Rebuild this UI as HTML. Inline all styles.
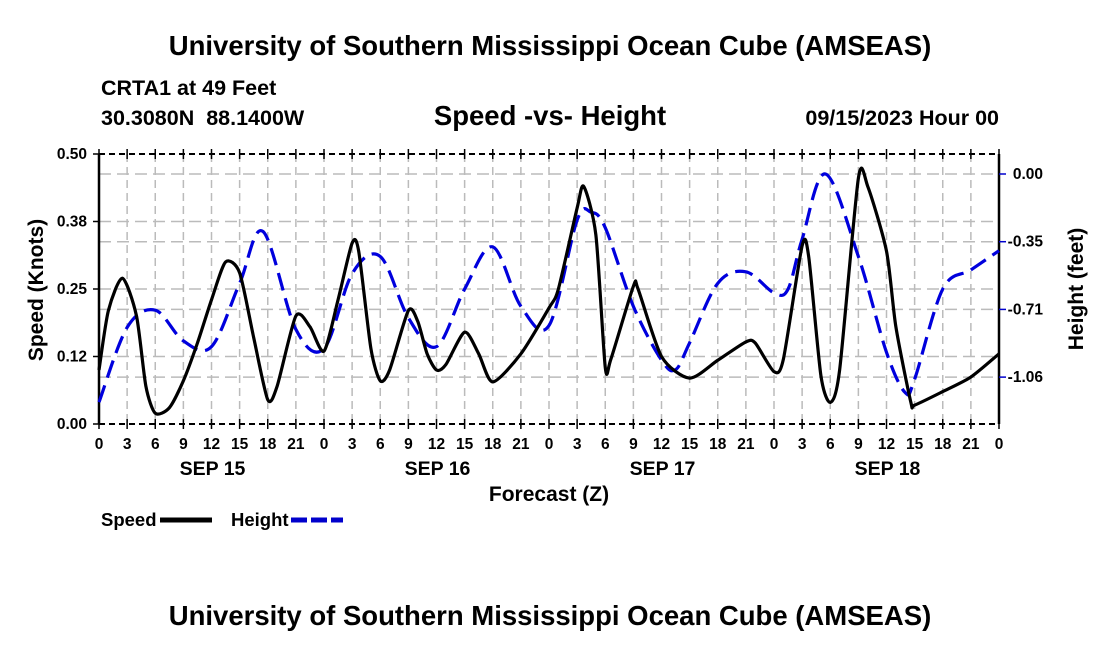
<!DOCTYPE html>
<html><head><meta charset="utf-8"><style>
body{margin:0;background:#fff;}
svg{display:block;font-family:"Liberation Sans",sans-serif;font-weight:bold;}
</style></head><body>
<svg id="chart" width="1100" height="650" viewBox="0 0 1100 650">
<text x="550" y="55" font-size="27.5" text-anchor="middle">University of Southern Mississippi Ocean Cube (AMSEAS)</text>
<text x="101" y="95" font-size="21.5">CRTA1 at 49 Feet</text>
<text x="101" y="125" font-size="21.5" xml:space="preserve">30.3080N  88.1400W</text>
<text x="550" y="125" font-size="27.5" text-anchor="middle">Speed -vs- Height</text>
<text x="999" y="125" font-size="21.5" text-anchor="end">09/15/2023 Hour 00</text>
<g id="grid"></g>
<g id="axes"></g>
<g id="series"></g>
<text x="549" y="501" font-size="21" text-anchor="middle">Forecast (Z)</text>
<text transform="translate(43,290) rotate(-90)" font-size="21" text-anchor="middle">Speed (Knots)</text>
<text transform="translate(1083,289) rotate(-90)" font-size="21" text-anchor="middle">Height (feet)</text>
<g>
<text x="101" y="526" font-size="18.5">Speed</text>
<line x1="160" y1="520" x2="212" y2="520" stroke="#000" stroke-width="5"/>
<text x="231" y="526" font-size="18.5">Height</text>
<line x1="291" y1="520" x2="343" y2="520" stroke="#0000cc" stroke-width="5" stroke-dasharray="16,4"/>
</g>
<text x="550" y="625" font-size="27.5" text-anchor="middle">University of Southern Mississippi Ocean Cube (AMSEAS)</text>
</svg>
<script>
const speedHours=[0,1,2.5,4,5,6,7.5,9,10.5,12,13.5,15,16.5,18,19,21,22.5,24,25.5,27,27.7,29,30,31,33,34,35,36,37,39,40.5,42,45,48,49,51,51.7,53,54,54.6,57,57.5,60,63,66,69,70,72,73,75,75.7,77,78,79,81,82,84,85,86.6,87,90,93,96];
const speedVals=[0.10,0.21,0.27,0.2,0.07,0.02,0.03,0.08,0.15,0.23,0.30,0.28,0.16,0.045,0.07,0.20,0.18,0.135,0.23,0.335,0.32,0.14,0.08,0.1,0.21,0.19,0.13,0.10,0.11,0.17,0.13,0.078,0.13,0.215,0.25,0.40,0.44,0.35,0.105,0.12,0.255,0.25,0.125,0.085,0.118,0.152,0.15,0.097,0.12,0.33,0.31,0.09,0.04,0.1,0.455,0.44,0.32,0.18,0.04,0.035,0.06,0.087,0.13];
const heightHours=[0,3,6,9,12,15,17.5,21,24,27,30,33,36,39,42,45,48,51,52.5,54,57,60,61.5,63,66,69,72,73.5,75,77.5,81,84,86,87,90,93,96];
const heightVals=[-1.19,-0.80,-0.71,-0.87,-0.90,-0.57,-0.30,-0.81,-0.91,-0.52,-0.43,-0.75,-0.90,-0.60,-0.38,-0.69,-0.79,-0.24,-0.20,-0.28,-0.69,-0.97,-1.02,-0.88,-0.57,-0.51,-0.62,-0.60,-0.34,0.0,-0.43,-0.93,-1.14,-1.07,-0.60,-0.50,-0.40];
const xTickLabels=["0","3","6","9","12","15","18","21","0","3","6","9","12","15","18","21","0","3","6","9","12","15","18","21","0","3","6","9","12","15","18","21","0"];
const dayLabels=["SEP 15","SEP 16","SEP 17","SEP 18"];
const speedTicks=[0,0.125,0.25,0.375,0.5];
const speedTickLabels=["0.00","0.12","0.25","0.38","0.50"];
const heightTicks=[0,-0.353,-0.706,-1.059];
const heightTickLabels=["0.00","-0.35","-0.71","-1.06"];

const L=99,R=999,T=154,B=424;
const X=h=>L+h*(R-L)/96;
const YS=v=>B-v*(B-T)/0.5;
const YH=v=>174-v*191.8;
const NS="http://www.w3.org/2000/svg";
function mk(tag,attrs,parent){const e=document.createElementNS(NS,tag);for(const k in attrs)e.setAttribute(k,attrs[k]);parent.appendChild(e);return e;}
const grid=document.getElementById('grid'),axes=document.getElementById('axes'),series=document.getElementById('series');
for(let i=1;i<32;i++){const x=X(i*3);
 const g=mk('line',{x1:x,y1:T,x2:x,y2:B,stroke:'#bbb','stroke-width':1.5,'stroke-dasharray':'8,5'},grid);
 
 }
const hy=[...speedTicks.slice(1,4).map(YS),...heightTicks.map(YH)];
hy.forEach(y=>{const g=mk('line',{x1:L,y1:y,x2:R,y2:y,stroke:'#bbb','stroke-width':1.5,'stroke-dasharray':'12,6'},grid);
 
 });
mk('line',{x1:L,y1:T,x2:R,y2:T,stroke:'#000','stroke-width':2,'stroke-dasharray':'6,4'},axes);
mk('line',{x1:L,y1:B,x2:R,y2:B,stroke:'#000','stroke-width':2,'stroke-dasharray':'6,4'},axes);
mk('line',{x1:L,y1:T,x2:L,y2:B,stroke:'#000','stroke-width':2.5},axes);
mk('line',{x1:R,y1:T,x2:R,y2:B,stroke:'#000','stroke-width':2.5},axes);
xTickLabels.forEach((t,i)=>{const x=X(i*3);
 mk('line',{x1:x,y1:B-5,x2:x,y2:B+5,stroke:'#000','stroke-width':1.5},axes);
 mk('line',{x1:x,y1:T-5,x2:x,y2:T+5,stroke:'#000','stroke-width':1.5},axes);
 const tx=mk('text',{x:x,y:449,'font-size':15.5,'text-anchor':'middle'},axes);tx.textContent=t;
 
 });
dayLabels.forEach((d,i)=>{const tx=mk('text',{x:X(12+24*i)+1,y:475,'font-size':19.5,'text-anchor':'middle'},axes);tx.textContent=d;
 
 });
speedTicks.forEach((v,i)=>{const y=YS(v);
 mk('line',{x1:L-6,y1:y,x2:L,y2:y,stroke:'#000','stroke-width':1.5},axes);
 const tx=mk('text',{x:L-12,y:y+5,'font-size':15.5,'text-anchor':'end'},axes);tx.textContent=speedTickLabels[i];
 
 });
heightTicks.forEach((v,i)=>{const y=YH(v);
 mk('line',{x1:R,y1:y,x2:R+7,y2:y,stroke:'#0000cc','stroke-width':1.5},axes);
 const tx=mk('text',{x:1043,y:y+5,'font-size':15.5,'text-anchor':'end'},axes);tx.textContent=heightTickLabels[i];
 
 });
function smooth(pts,k){let d=`M${pts[0][0]},${pts[0][1]}`;
 for(let i=0;i<pts.length-1;i++){const p0=pts[Math.max(0,i-1)],p1=pts[i],p2=pts[i+1],p3=pts[Math.min(pts.length-1,i+2)];
  const c1=[p1[0]+(p2[0]-p0[0])/k,p1[1]+(p2[1]-p0[1])/k],c2=[p2[0]-(p3[0]-p1[0])/k,p2[1]-(p3[1]-p1[1])/k];
  d+=` C${c1[0]},${c1[1]} ${c2[0]},${c2[1]} ${p2[0]},${p2[1]}`;}
 return d;}
const hp=mk('path',{d:smooth(heightHours.map((h,i)=>[X(h),YH(heightVals[i])]),6),fill:'none',stroke:'#0000dd','stroke-width':3.2,'stroke-dasharray':'18,8'},series);


const sp=mk('path',{d:smooth(speedHours.map((h,i)=>[X(h),YS(speedVals[i])]),8),fill:'none',stroke:'#000','stroke-width':3.2,'stroke-linejoin':'round'},series);


</script>
</body></html>
